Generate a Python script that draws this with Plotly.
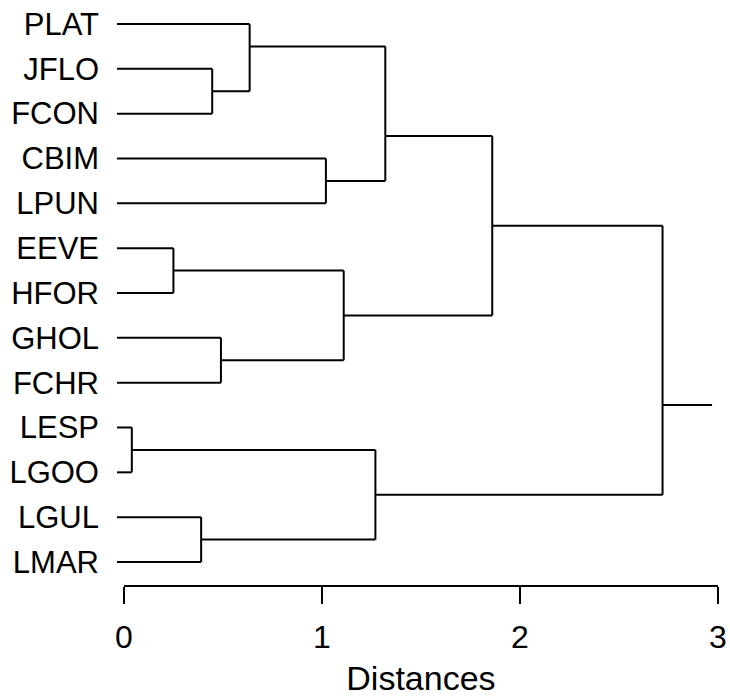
import plotly.graph_objects as go

# ---- data ----
leaves = ["PLAT", "JFLO", "FCON", "CBIM", "LPUN", "EEVE", "HFOR",
          "GHOL", "FCHR", "LESP", "LGOO", "LGUL", "LMAR"]
# merges (scipy-style: ids < 13 are leaves, 13+ are earlier merges)
merge_left = [1, 0, 3, 14, 5, 7, 17, 16, 9, 11, 21, 20]
merge_right = [2, 13, 4, 15, 6, 8, 18, 19, 10, 12, 22, 23]
merge_height = [0.446, 0.635, 1.02, 1.32, 0.25, 0.49, 1.11, 1.86, 0.04, 0.39, 1.27, 2.72]
root_tail = 2.97
tick_vals = [0, 1, 2, 3]
tick_text = ["0", "1", "2", "3"]
axis_title = "Distances"

LEAF_START = -0.035
n = len(leaves)

# cluster geometry
last_leaf = {i: i for i in range(n)}
node_y = {i: float(i) for i in range(n)}
node_x = {i: LEAF_START for i in range(n)}

xs, ys = [], []
for k, (a, b, h) in enumerate(zip(merge_left, merge_right, merge_height)):
    nid = n + k
    for c in (a, b):
        xs += [node_x[c], h, None]
        ys += [node_y[c], node_y[c], None]
    xs += [h, h, None]
    ys += [node_y[a], node_y[b], None]
    last_leaf[nid] = last_leaf[b]
    node_y[nid] = last_leaf[a] + 0.5
    node_x[nid] = h

root = n + len(merge_height) - 1
xs += [node_x[root], root_tail, None]
ys += [node_y[root], node_y[root], None]

FONT = "Liberation Sans, Arial, Helvetica, sans-serif"

fig = go.Figure()
fig.add_trace(go.Scatter(x=xs, y=ys, mode="lines",
                         line=dict(color="black", width=2),
                         hoverinfo="skip", showlegend=False))
# invisible trace to carry the distance axis
fig.add_trace(go.Scatter(x=[tick_vals[0], tick_vals[-1]], y=[None, None],
                         xaxis="x2", yaxis="y",
                         mode="markers", marker=dict(opacity=0),
                         showlegend=False, hoverinfo="skip"))

x_lo, x_hi = -0.05, 3.0
d_lo = (tick_vals[0] - x_lo) / (x_hi - x_lo)

fig.update_layout(
    width=730, height=697,
    margin=dict(l=114, r=12, t=2, b=112, autoexpand=False),
    paper_bgcolor="white", plot_bgcolor="rgba(0,0,0,0)",
    font=dict(family=FONT, color="black"),
    showlegend=False,
    xaxis=dict(range=[x_lo, x_hi], visible=False, domain=[0, 1],
               automargin=False),
    xaxis2=dict(range=[tick_vals[0], tick_vals[-1]], domain=[d_lo, 1], anchor="y",
                automargin=False,
                showline=True, linecolor="black", linewidth=2,
                ticks="outside", ticklen=17, tickwidth=2, tickcolor="black",
                tickvals=tick_vals, ticktext=tick_text,
                tickfont=dict(size=32, family=FONT),
                ticklabelstandoff=6,
                showgrid=False, zeroline=False,
                title=dict(text=axis_title, font=dict(size=34, family=FONT),
                           standoff=12)),
    yaxis=dict(range=[12.513, -0.49], autorange=False, automargin=False,
               tickvals=list(range(n)), ticktext=leaves,
               tickfont=dict(size=31, family=FONT),
               ticks="", ticklabelstandoff=14,
               showline=False, showgrid=False, zeroline=False),
)

fig.write_html("out.html",
               config={"displayModeBar": False},
               post_script="document.body.style.margin='0';document.body.style.overflow='hidden';")
